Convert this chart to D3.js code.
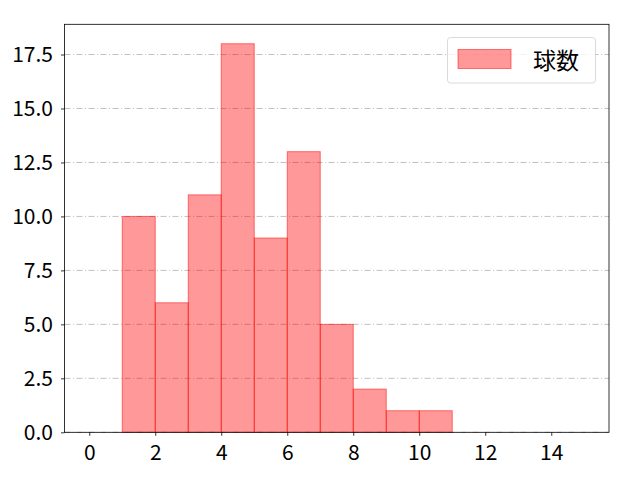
<!DOCTYPE html>
<html>
<head>
<meta charset="utf-8">
<script src="https://cdn.jsdelivr.net/npm/d3@7"></script>
<style>
  body { margin: 0; background: #fff; }
  svg text { font-family: "Noto Sans CJK JP", "DejaVu Sans", sans-serif; }
</style>
</head>
<body>
<svg></svg>
<script>
// histogram bins (left edges, width 1) and counts
var binEdges = [0, 1, 2, 3, 4, 5, 6, 7, 8, 9, 10, 11, 12, 13, 14];
var counts = [0, 10, 6, 11, 18, 9, 13, 5, 2, 1, 1, 0, 0, 0, 0];
var xTicks = [0, 2, 4, 6, 8, 10, 12, 14];
var yTicks = [0, 2.5, 5, 7.5, 10, 12.5, 15, 17.5];
var seriesName = "球数";

var width = 640, height = 480;
var margins = {top: 24.3, right: 31, bottom: 47.7, left: 64.5};

var svg = d3.select("svg")
  .attr("width", width)
  .attr("height", height);

var x = d3.scaleLinear()
  .domain([-0.75, 15.75])
  .range([margins.left, width - margins.right]);

var y = d3.scaleLinear()
  .domain([0, 18.9])
  .range([height - margins.bottom, margins.top]);

// grid
svg.append("g")
  .selectAll("line")
  .data(yTicks)
  .enter()
  .append("line")
  .attr("x1", margins.left)
  .attr("x2", width - margins.right)
  .attr("y1", function(d){ return y(d); })
  .attr("y2", function(d){ return y(d); })
  .attr("stroke", "#b0b0b0")
  .attr("stroke-width", 0.8)
  .attr("stroke-dasharray", "6,2.5,1,2.5");

// bars
svg.append("g")
  .selectAll("rect")
  .data(counts)
  .enter()
  .append("rect")
  .attr("x", function(d, i){ return x(binEdges[i]); })
  .attr("y", function(d){ return y(d); })
  .attr("width", function(d, i){ return x(binEdges[i] + 1) - x(binEdges[i]); })
  .attr("height", function(d){ return y(0) - y(d); })
  .attr("fill", "red")
  .attr("fill-opacity", 0.4)
  .attr("stroke", "red")
  .attr("stroke-opacity", 0.5)
  .attr("stroke-width", 1);

// axes
var xAxis = svg.append("g")
  .attr("transform", "translate(0," + (height - margins.bottom) + ")")
  .call(d3.axisBottom(x).tickValues(xTicks).tickSize(3.5).tickPadding(9.5).tickFormat(d3.format("d")));

var yAxis = svg.append("g")
  .attr("transform", "translate(" + margins.left + ",0)")
  .call(d3.axisLeft(y).tickValues(yTicks).tickSize(3.5).tickPadding(8).tickFormat(d3.format(".1f")));

[xAxis, yAxis].forEach(function(a){
  a.select(".domain").remove();
  a.selectAll("text").attr("font-size", 21).attr("fill", "#000")
    .style("font-family", "'Noto Sans CJK JP', sans-serif");
  a.selectAll("line").attr("stroke", "#000").attr("stroke-width", 0.8);
});

// frame
svg.append("rect")
  .attr("x", margins.left)
  .attr("y", margins.top)
  .attr("width", width - margins.right - margins.left)
  .attr("height", height - margins.bottom - margins.top)
  .attr("fill", "none")
  .attr("stroke", "#000")
  .attr("stroke-width", 0.8);

// legend
var legend = svg.append("g");
legend.append("rect")
  .attr("x", 447.5).attr("y", 37.5)
  .attr("width", 148).attr("height", 45.5)
  .attr("rx", 3)
  .attr("fill", "#fff").attr("fill-opacity", 0.8)
  .attr("stroke", "#d0d0d0").attr("stroke-width", 0.8);
legend.append("rect")
  .attr("x", 458).attr("y", 49.5)
  .attr("width", 53).attr("height", 19)
  .attr("fill", "red").attr("fill-opacity", 0.4)
  .attr("stroke", "red").attr("stroke-opacity", 0.5);
legend.append("text")
  .attr("x", 533).attr("y", 68.5)
  .attr("font-size", 23)
  .text(seriesName);
</script>
</body>
</html>
